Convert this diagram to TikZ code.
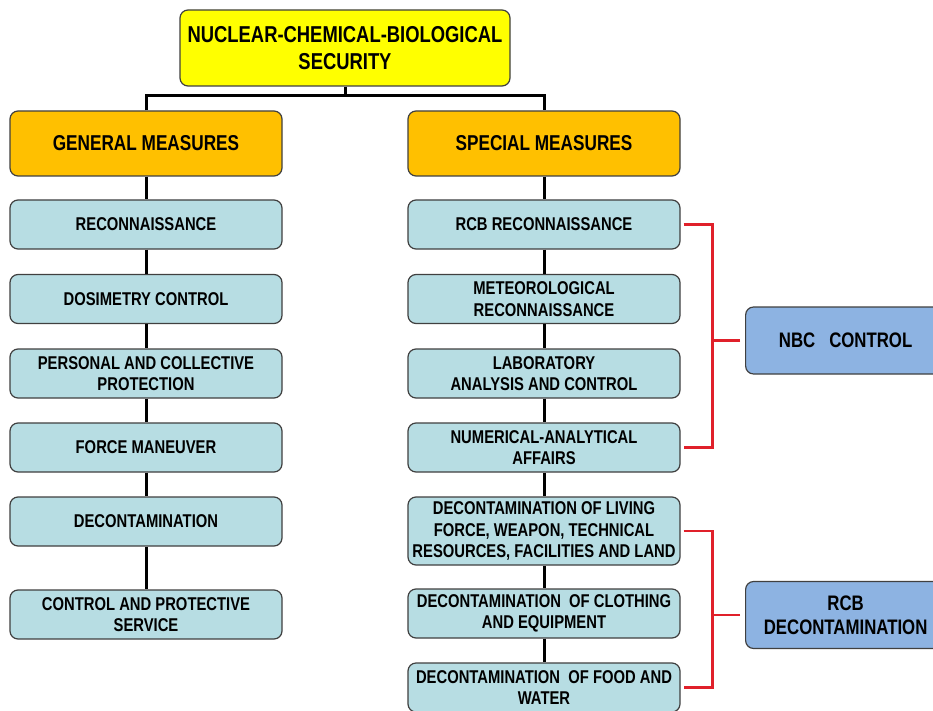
\documentclass[tikz,border=0pt]{standalone}
\usepackage{fontspec}
\setmainfont{Liberation Sans}[FakeStretch=0.8]
\begin{document}
\begin{tikzpicture}[x=1pt,y=-1pt,
  base/.style={draw=black!75, line width=1.2pt, rounded corners=8pt, align=center,
    inner sep=0pt, font=\fontsize{18.5}{21.5}\selectfont\bfseries, text=black},
  topbox/.style={base, fill=yellowfill, minimum width=330pt, minimum height=76pt,
    font=\fontsize{23}{27}\selectfont\bfseries},
  headbox/.style={base, fill=orangefill, minimum width=272pt, minimum height=65pt,
    font=\fontsize{21.5}{25}\selectfont\bfseries},
  item/.style={base, fill=tealfill, minimum width=272pt, minimum height=49pt},
  tall/.style={item, minimum height=68pt},
  sidebox/.style={base, fill=bluefill, minimum width=200pt, minimum height=67pt,
    font=\fontsize{21}{24}\selectfont\bfseries},
  conn/.style={line width=3pt, black},
  redl/.style={line width=2.6pt, redline}]
\definecolor{yellowfill}{HTML}{FFFF00}
\definecolor{orangefill}{HTML}{FFC000}
\definecolor{tealfill}{HTML}{B7DDE3}
\definecolor{bluefill}{HTML}{8DB3E2}
\definecolor{redline}{HTML}{E0202A}
\useasboundingbox (0,0) rectangle (933,711);
\clip (0,0) rectangle (933,711);
\fill[white] (0,0) rectangle (933,711);

\node[topbox] (top) at (345,48) {NUCLEAR-CHEMICAL-BIOLOGICAL\\SECURITY};
\node[headbox] (gen) at (146,143.5) {GENERAL MEASURES};
\node[headbox] (spec) at (544,143.5) {SPECIAL MEASURES};

\node[item] (l1) at (146,224.5) {RECONNAISSANCE};
\node[item] (l2) at (146,299) {DOSIMETRY CONTROL};
\node[item] (l3) at (146,373.5) {PERSONAL AND COLLECTIVE\\PROTECTION};
\node[item] (l4) at (146,447.5) {FORCE MANEUVER};
\node[item] (l5) at (146,521.5) {DECONTAMINATION};
\node[item] (l6) at (146,614.5) {CONTROL AND PROTECTIVE\\SERVICE};

\node[item] (r1) at (544,224.5) {RCB RECONNAISSANCE};
\node[item] (r2) at (544,299) {METEOROLOGICAL\\RECONNAISSANCE};
\node[item] (r3) at (544,373.5) {LABORATORY\\ANALYSIS AND CONTROL};
\node[item] (r4) at (544,447.5) {NUMERICAL-ANALYTICAL\\AFFAIRS};
\node[tall] (r5) at (544,531) {DECONTAMINATION OF LIVING\\FORCE, WEAPON, TECHNICAL\\RESOURCES, FACILITIES AND LAND};
\node[item] (r6) at (544,613.5) {DECONTAMINATION \ OF CLOTHING\\AND EQUIPMENT};
\node[item] (r7) at (544,687.5) {DECONTAMINATION \ OF FOOD AND\\WATER};

\node[sidebox, anchor=west, text width=188pt] (nbc) at (745,340.5) {NBC \ CONTROL};
\node[sidebox, anchor=west, text width=188pt] (rcb) at (745,615) {RCB\\DECONTAMINATION};

\coordinate (bar) at (345,96);
\draw[conn] (top.south) -- (bar);
\draw[conn] (gen.north) |- (bar) -| (spec.north);

\draw[conn] (gen.south) -- (l1.north);
\draw[conn] (l1.south) -- (l2.north);
\draw[conn] (l2.south) -- (l3.north);
\draw[conn] (l3.south) -- (l4.north);
\draw[conn] (l4.south) -- (l5.north);
\draw[conn] (l5.south) -- (l6.north);

\draw[conn] (spec.south) -- (r1.north);
\draw[conn] (r1.south) -- (r2.north);
\draw[conn] (r2.south) -- (r3.north);
\draw[conn] (r3.south) -- (r4.north);
\draw[conn] (r4.south) -- (r5.north);
\draw[conn] (r5.south) -- (r6.north);
\draw[conn] (r6.south) -- (r7.north);

\draw[redl] ([xshift=3pt]r1.east) -- ([xshift=32pt]r1.east) -- ([xshift=32pt]r4.east) -- ([xshift=3pt]r4.east);
\draw[redl] ([xshift=-5pt]nbc.west) -- ([xshift=32pt]r1.east |- nbc.west);
\draw[redl] ([xshift=3pt]r5.east) -- ([xshift=32pt]r5.east) -- ([xshift=32pt]r7.east) -- ([xshift=3pt]r7.east);
\draw[redl] ([xshift=-5pt]rcb.west) -- ([xshift=32pt]r5.east |- rcb.west);
\end{tikzpicture}
\end{document}
